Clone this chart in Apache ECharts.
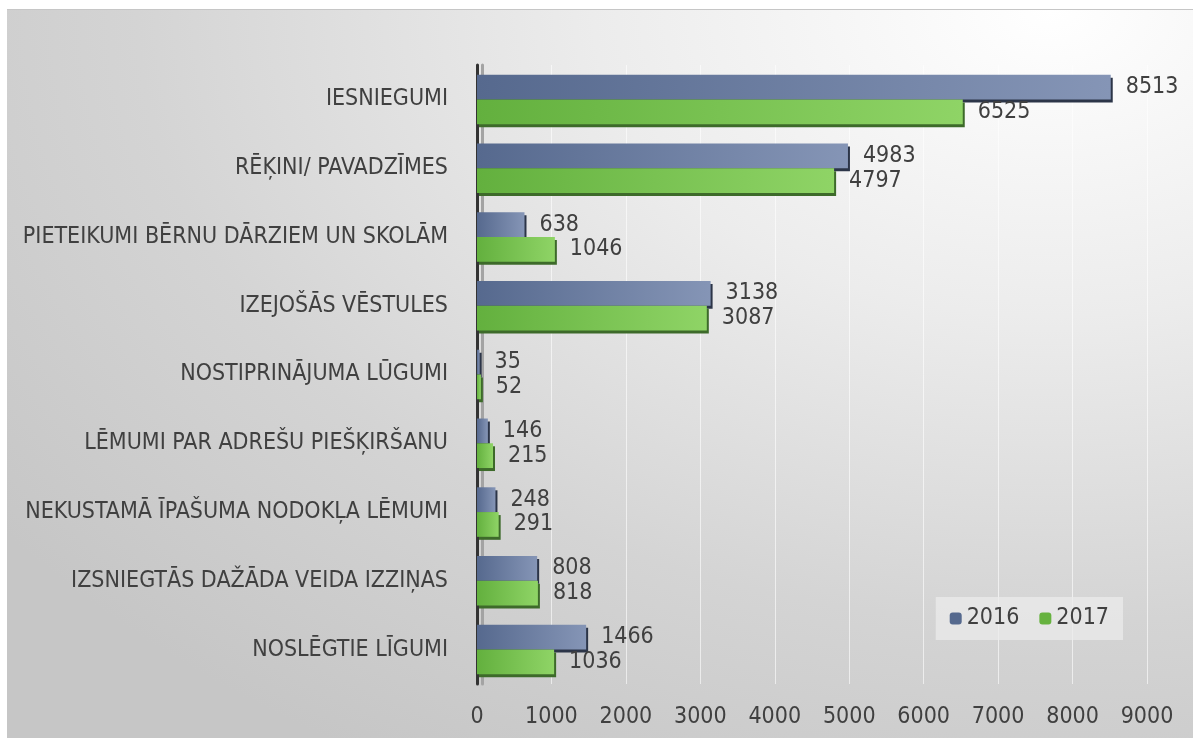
<!DOCTYPE html>
<html lang="lv">
<head>
  <meta charset="UTF-8">
  <title>Dokumenti 2016 / 2017</title>
  <script src="https://cdn.jsdelivr.net/npm/echarts@6/dist/echarts.min.js"></script>
  <style>
    html, body { margin: 0; padding: 0; background: #fff; }
    #bg {
      position: absolute; left: 7px; top: 9px; width: 1186px; height: 729px;
      border-top: 1px solid #c6c6c6;
      background: radial-gradient(ellipse 110% 120% at 88% 0%, #ffffff 0%, #ececec 35%, #d4d4d4 70%, #c6c6c6 100%);
    }
    #chart { position: absolute; left: 0; top: 0; width: 1193px; height: 738px; }
  </style>
</head>
<body>
  <div id="bg"></div>
  <div id="chart"></div>

  <script>
    var categories = [
      'IESNIEGUMI',
      'RĒĶINI/ PAVADZĪMES',
      'PIETEIKUMI BĒRNU DĀRZIEM UN SKOLĀM',
      'IZEJOŠĀS VĒSTULES',
      'NOSTIPRINĀJUMA LŪGUMI',
      'LĒMUMI PAR ADREŠU PIEŠĶIRŠANU',
      'NEKUSTAMĀ ĪPAŠUMA NODOKĻA LĒMUMI',
      'IZSNIEGTĀS DAŽĀDA VEIDA IZZIŅAS',
      'NOSLĒGTIE LĪGUMI'
    ];
    var values2016 = [8513, 4983, 638, 3138, 35, 146, 248, 808, 1466];
    var values2017 = [6525, 4797, 1046, 3087, 52, 215, 291, 818, 1036];

    var font = '"Liberation Sans Narrow", "DejaVu Sans Condensed", sans-serif';
    var chart = echarts.init(document.getElementById('chart'));

    function grad(a, b) {
      return new echarts.graphic.LinearGradient(0, 0, 1, 0, [
        { offset: 0, color: a }, { offset: 1, color: b }
      ]);
    }

    chart.setOption({
      backgroundColor: 'transparent',
      animation: false,
      textStyle: { fontFamily: font },
      grid: { left: 477, right: 46, top: 65, bottom: 54 },
      legend: {
        right: 70, top: 597,
        padding: [10, 14],
        backgroundColor: 'rgba(235,235,235,0.75)',
        itemWidth: 12, itemHeight: 12, itemGap: 20,
        textStyle: { fontSize: 23, color: '#404040', fontFamily: font },
        data: [
          { name: '2016', itemStyle: { color: '#55698e' } },
          { name: '2017', itemStyle: { color: '#66b23f' } }
        ]
      },
      xAxis: {
        type: 'value', min: 0, max: 9000, interval: 1000,
        axisLine: { show: false }, axisTick: { show: false },
        axisLabel: { fontSize: 23, color: '#404040', margin: 22, formatter: function (v) { return String(v); } },
        splitLine: { show: true, lineStyle: { color: 'rgba(255,255,255,0.6)', width: 1 } }
      },
      yAxis: {
        type: 'category', inverse: true, data: categories,
        offset: 7,
        axisLine: { show: true, lineStyle: { color: '#333', width: 3, shadowColor: '#a3a3a3', shadowOffsetX: 5 } },
        axisTick: { show: false },
        axisLabel: { fontSize: 23, color: '#404040', margin: 22 }
      },
      series: [
        {
          name: '2016', type: 'bar', data: values2016,
          barGap: '0%', barCategoryGap: '28%',
          itemStyle: {
            color: grad('#56698e', '#8595b6'),
            shadowColor: '#2c3548', shadowOffsetY: 3, shadowOffsetX: 2
          },
          label: { show: true, position: 'right', distance: 15, fontSize: 23, color: '#404040' }
        },
        {
          name: '2017', type: 'bar', data: values2017,
          itemStyle: {
            color: grad('#63b03e', '#8fd466'),
            shadowColor: '#3d6a2a', shadowOffsetY: 3, shadowOffsetX: 2
          },
          label: { show: true, position: 'right', distance: 15, fontSize: 23, color: '#404040' }
        }
      ]
    });
  </script>
</body>
</html>
